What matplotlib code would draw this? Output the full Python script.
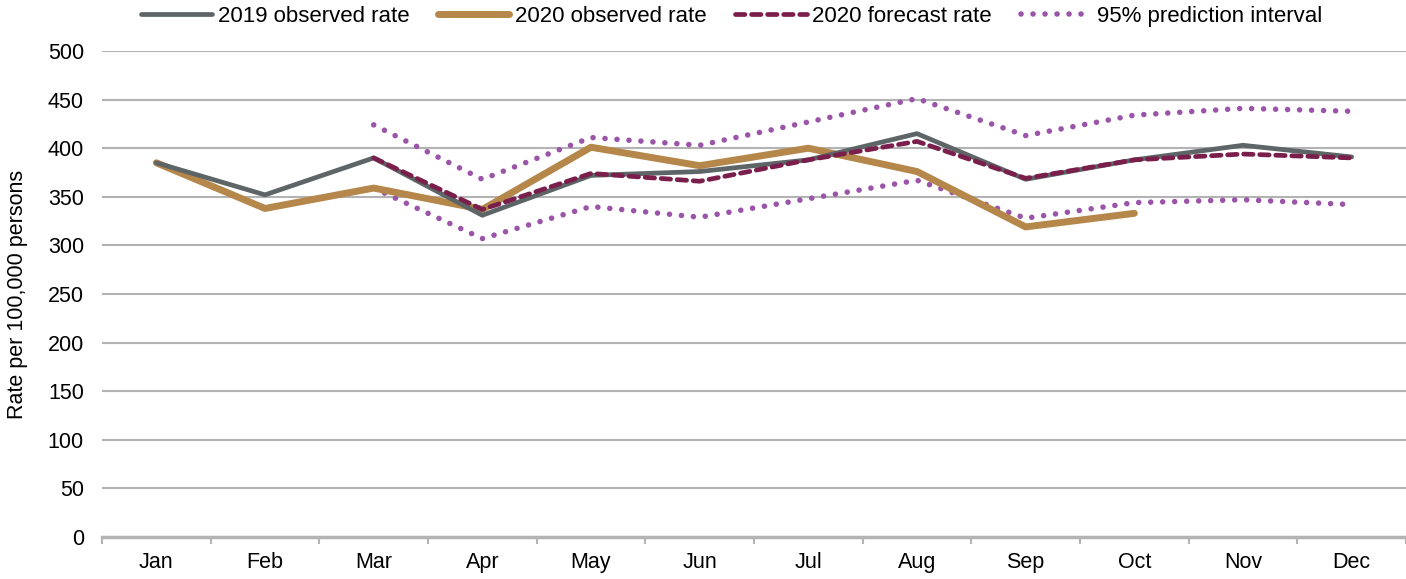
import matplotlib.pyplot as plt
import numpy as np

plt.rcParams['font.family'] = ['Liberation Sans', 'DejaVu Sans']

# Data
months = ['Jan', 'Feb', 'Mar', 'Apr', 'May', 'Jun', 'Jul', 'Aug', 'Sep', 'Oct', 'Nov', 'Dec']
obs_2019 = [385, 352, 390, 331, 372, 376, 388, 415, 368, 388, 403, 391]
obs_2020 = [385, 338, 359, 337, 401, 382, 400, 376, 319, 333]
fc_2020 = [None, None, 390, 337, 374, 366, 388, 407, 369, 388, 394, 390]
pi_upper = [None, None, 424, 368, 411, 403, 427, 451, 413, 434, 441, 438]
pi_lower = [None, None, 359, 307, 340, 329, 348, 367, 328, 344, 347, 342]

def to_arr(v):
    return np.array([np.nan if a is None else a for a in v], dtype=float)

x = np.arange(len(months))

fig = plt.figure(figsize=(14.06, 5.79), dpi=100)
ax = fig.add_axes([102 / 1406, 1 - 537 / 579, 1 - 102 / 1406, (537 - 51) / 579])

ax.plot(x, obs_2019, color='#5d6566', lw=3.4, solid_capstyle='round', label='2019 observed rate', zorder=3)
ax.plot(x[:len(obs_2020)], obs_2020, color='#b5874a', lw=5, solid_capstyle='round', label='2020 observed rate', zorder=2)
ax.plot(x, to_arr(fc_2020), color='#7a1f4c', lw=3.4, ls=(0, (2.0, 1.4)), dash_capstyle='round', label='2020 forecast rate', zorder=4)
ax.plot(x, to_arr(pi_upper), color='#9a55a8', lw=4, ls=(0, (0.01, 2.15)), dash_capstyle='round', label='95% prediction interval', zorder=1)
ax.plot(x, to_arr(pi_lower), color='#9a55a8', lw=4, ls=(0, (0.01, 2.15)), dash_capstyle='round', zorder=1)

ax.set_xlim(-0.5, len(months) - 0.5)
ax.set_ylim(0, 500)
ax.set_yticks(np.arange(0, 501, 50))
ax.yaxis.grid(True, color='#b3b3b3', lw=1.5)
ax.set_axisbelow(True)
ax.tick_params(axis='y', length=0, labelsize=15.5, pad=13)

ax.set_xticks(x)
ax.set_xticklabels(months)
ax.set_xticks(np.arange(-0.5, len(months)), minor=True)
ax.tick_params(axis='x', which='major', length=0, labelsize=15.5, pad=11)
ax.tick_params(axis='x', which='minor', length=5, color='#b3b3b3', width=1.5, direction='out')

for s in ['top', 'right', 'left']:
    ax.spines[s].set_visible(False)
ax.spines['bottom'].set_color('#b3b3b3')
ax.spines['bottom'].set_linewidth(2.5)

ax.set_ylabel('Rate per 100,000 persons', fontsize=15.5, labelpad=14)

ax.legend(loc='lower center', bbox_to_anchor=(0.483, 1.022), ncol=4, frameon=False, fontsize=16,
          handlelength=3.2, columnspacing=1.3, handletextpad=0.25, borderpad=0.1)

fig.savefig('out.png', dpi=100)
